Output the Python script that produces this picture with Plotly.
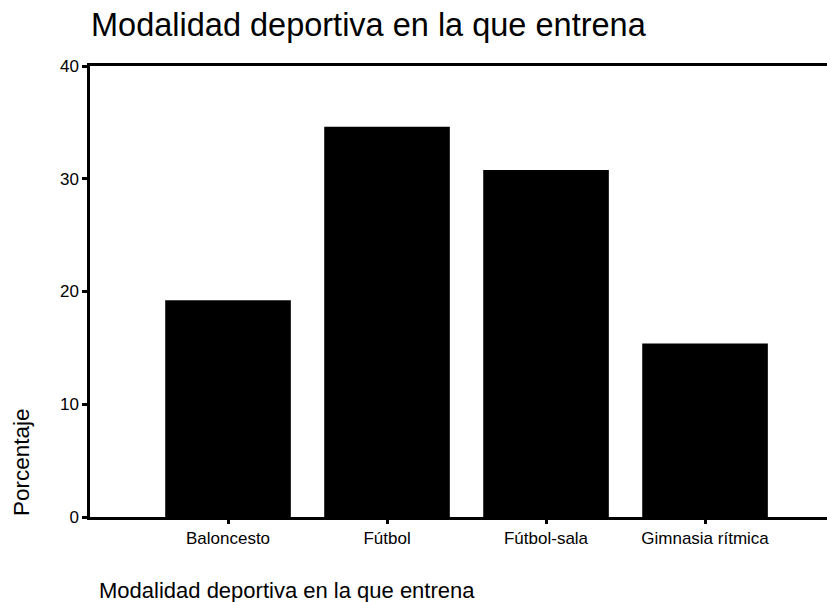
import plotly.graph_objects as go

categories = ["Baloncesto", "Fútbol", "Fútbol-sala", "Gimnasia rítmica"]
percentages = [19.23, 34.62, 30.77, 15.38]
y_ticks = [0, 10, 20, 30, 40]

title_text = "Modalidad deportiva en la que entrena"
x_title = "Modalidad deportiva en la que entrena"
y_title = "Porcentaje"

FONT = "Liberation Sans, Arial, sans-serif"

W, H = 827, 602
L, R, T, B = 90, 0, 66, 85
PW, PH = W - L - R, H - T - B


def px_x(x):
    return (x - L) / PW


def px_y(y):
    return (H - B - y) / PH


fig = go.Figure(go.Bar(
    x=list(range(len(categories))),
    y=percentages,
    width=0.79,
    marker=dict(color="black", line=dict(width=0)),
))

fig.update_layout(
    width=W, height=H,
    margin=dict(l=L, r=R, t=T, b=B, autoexpand=False),
    paper_bgcolor="white", plot_bgcolor="white",
    showlegend=False,
    font=dict(family=FONT, color="black"),
    title=dict(text=title_text, x=91/W, xanchor="left", y=1-25/H, yanchor="middle",
               font=dict(size=32.5, family=FONT, color="black")),
    xaxis=dict(
        tickmode="array", tickvals=list(range(len(categories))), ticktext=categories,
        range=[-0.868, 3.767],
        showline=True, linecolor="black", linewidth=2.5, mirror=True,
        ticks="outside", ticklen=4, tickwidth=3, tickcolor="black",
        showgrid=False, zeroline=False,
        tickfont=dict(size=17, family=FONT, color="black"),
    ),
    yaxis=dict(
        tickmode="array", tickvals=y_ticks, ticktext=[str(v) for v in y_ticks],
        range=[0, 40],
        showline=True, linecolor="black", linewidth=2.5, mirror=False,
        ticks="outside", ticklen=5, tickwidth=3, tickcolor="black",
        showgrid=False, zeroline=False,
        tickfont=dict(size=17, family=FONT, color="black"),
    ),
    annotations=[
        dict(text=x_title, x=px_x(97), y=px_y(590), xref="paper", yref="paper",
             xanchor="left", yanchor="middle", showarrow=False,
             font=dict(size=22, family=FONT, color="black")),
        dict(text=y_title, x=px_x(21), y=px_y(462), xref="paper", yref="paper",
             xanchor="center", yanchor="middle", showarrow=False, textangle=-90,
             font=dict(size=22.5, family=FONT, color="black")),
    ],
)

fig.write_html("out.html", config={"displayModeBar": False},
               post_script="document.body.style.margin='0';")
